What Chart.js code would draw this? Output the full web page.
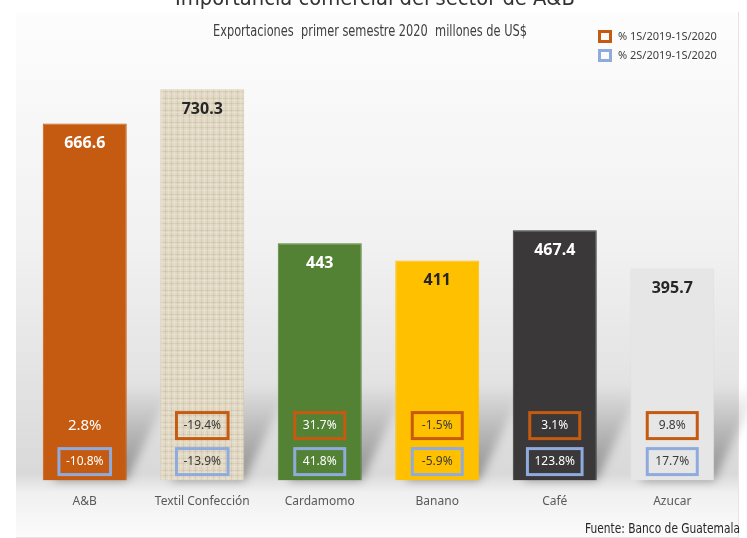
<!DOCTYPE html>
<html>
<head>
<meta charset="utf-8">
<script src="https://cdn.jsdelivr.net/npm/chart.js@4.4.0/dist/chart.umd.min.js"></script>
<style>
  html, body { margin: 0; padding: 0; background: #fff; }
  #wrap { width: 747px; height: 538px; position: relative; }
</style>
</head>
<body>
<div id="wrap"><canvas id="grafico"></canvas></div>
<script>
// datos
var categorias = ['A&B', 'Textil Confección', 'Cardamomo', 'Banano', 'Café', 'Azucar'];
var exportaciones = [666.6, 730.3, 443, 411, 467.4, 395.7];
var var1S = ['2.8%', '-19.4%', '31.7%', '-1.5%', '3.1%', '9.8%'];
var var2S = ['-10.8%', '-13.9%', '41.8%', '-5.9%', '123.8%', '17.7%'];
var leyenda = ['% 1S/2019-1S/2020', '% 2S/2019-1S/2020'];

var colorTexto = ['#ffffff', '#262626', '#ffffff', '#262626', '#ffffff', '#262626'];
var colorPct = ['#ffffff', '#3a3a3a', '#ffffff', '#3a3a3a', '#ffffff', '#3a3a3a'];
var conCaja1 = [false, true, true, true, true, true];

function texturaLino(){
    var c = document.createElement('canvas');
    c.width = 12; c.height = 12;
    var g = c.getContext('2d');
    g.fillStyle = '#e2d9c4';
    g.fillRect(0, 0, 12, 12);
    g.globalAlpha = 0.3;
    g.fillStyle = '#b9ad92';
    g.fillRect(0, 2, 12, 1);
    g.fillRect(0, 7, 12, 1);
    g.fillRect(3, 0, 1, 12);
    g.fillRect(9, 0, 1, 12);
    g.fillStyle = '#f3ede0';
    g.fillRect(0, 4, 12, 1);
    g.fillRect(0, 10, 12, 1);
    g.fillRect(6, 0, 1, 12);
    g.fillRect(0, 0, 1, 12);
    return g.createPattern(c, 'repeat');
}

var colores = ['#c55a11', texturaLino(), '#548235', '#ffc000', '#3a3838', '#e7e6e6'];

var fondo = {
    id: 'fondo',
    beforeDraw: function(chart){
        var ctx = chart.ctx;
        ctx.save();
        ctx.fillStyle = '#ffffff';
        ctx.fillRect(0, 0, chart.width, chart.height);
        var grd = ctx.createLinearGradient(0, 12, 0, 537);
        grd.addColorStop(0, '#fdfdfd');
        grd.addColorStop(0.45, '#f1f1f1');
        grd.addColorStop(0.88, '#d9d9d9');
        grd.addColorStop(0.915, '#f0f0f0');
        grd.addColorStop(1, '#fbfbfb');
        ctx.fillStyle = grd;
        ctx.fillRect(16, 12, 722, 525);
        ctx.strokeStyle = '#e4e4e4';
        ctx.lineWidth = 1;
        ctx.beginPath();
        ctx.moveTo(738.5, 12); ctx.lineTo(738.5, 537.5); ctx.lineTo(16, 537.5);
        ctx.stroke();

        // titulo cortado arriba
        ctx.fillStyle = '#333333';
        ctx.font = '22px "DejaVu Sans Condensed", "DejaVu Sans", sans-serif';
        ctx.textAlign = 'center';
        ctx.textBaseline = 'alphabetic';
        ctx.fillText('Importancia comercial del sector de A&B', 375, 5, 400);

        ctx.fillStyle = '#404040';
        ctx.font = '15px "DejaVu Sans Condensed", "DejaVu Sans", sans-serif';
        ctx.textBaseline = 'middle';
        ctx.fillText('Exportaciones  primer semestre 2020  millones de US$', 370, 32, 314);

        // leyenda
        var bordes = ['#c55a11', '#8faadc'];
        ctx.textAlign = 'left';
        ctx.font = '11px "Noto Sans", sans-serif';
        for (var i = 0; i < leyenda.length; i++) {
            var y = 37 + i * 19;
            ctx.strokeStyle = bordes[i];
            ctx.lineWidth = 3;
            ctx.strokeRect(599.5, y - 5.5, 11, 10);
            ctx.fillStyle = '#404040';
            ctx.fillText(leyenda[i], 618, y, 122);
        }

        ctx.fillStyle = '#262626';
        ctx.font = '14px "DejaVu Sans Condensed", "DejaVu Sans", sans-serif';
        ctx.textAlign = 'right';
        ctx.fillText('Fuente: Banco de Guatemala', 740, 529, 155);
        ctx.restore();
    },
    beforeDatasetsDraw: function(chart){
        var ctx = chart.ctx;
        var meta = chart.getDatasetMeta(0);
        var base = chart.scales.y.getPixelForValue(0);
        ctx.save();
        ctx.filter = 'blur(5px)';
        meta.data.forEach(function(bar){
            var x0 = bar.x - bar.width / 2, x1 = bar.x + bar.width / 2;
            var grd = ctx.createLinearGradient(0, base, 0, base - 95);
            grd.addColorStop(0, 'rgba(80,80,80,0.55)');
            grd.addColorStop(1, 'rgba(80,80,80,0)');
            ctx.fillStyle = grd;
            ctx.beginPath();
            ctx.moveTo(x0 + 10, base);
            ctx.lineTo(x1, base);
            ctx.lineTo(x1 + 45, base - 95);
            ctx.lineTo(x0 + 55, base - 95);
            ctx.closePath();
            ctx.fill();
        });
        ctx.restore();
    },
    afterDatasetsDraw: function(chart){
        var ctx = chart.ctx;
        var meta = chart.getDatasetMeta(0);
        var base = chart.scales.y.getPixelForValue(0);
        ctx.save();
        ctx.textAlign = 'center';
        ctx.textBaseline = 'middle';
        meta.data.forEach(function(bar, i){
            ctx.fillStyle = colorTexto[i];
            ctx.font = 'bold 16px "Noto Sans", sans-serif';
            ctx.fillText(exportaciones[i], bar.x, bar.y + 20);

            ctx.font = '12px "Noto Sans", sans-serif';
            var y1 = base - 55, y2 = base - 19;
            var a1 = Math.max(50, ctx.measureText(var1S[i]).width + 14);
            var a2 = Math.max(50, ctx.measureText(var2S[i]).width + 14);
            ctx.lineWidth = 3;
            if (conCaja1[i]) {
                ctx.strokeStyle = '#c55a11';
                ctx.strokeRect(bar.x - a1 / 2, y1 - 13, a1, 26);
            }
            ctx.strokeStyle = '#8faadc';
            ctx.strokeRect(bar.x - a2 / 2, y2 - 13, a2, 26);
            ctx.fillStyle = colorPct[i];
            ctx.font = (conCaja1[i] ? '12px' : '15px') + ' "Noto Sans", sans-serif';
            ctx.fillText(var1S[i], bar.x, y1);
            ctx.font = '12px "Noto Sans", sans-serif';
            ctx.fillText(var2S[i], bar.x, y2);
        });
        ctx.restore();
    }
};

function setGrafico(){
    var ctx = document.getElementById('grafico').getContext('2d');
    new Chart(ctx, {
        type: 'bar',
        data: {
            labels: categorias,
            datasets: [{
                label: 'Exportaciones',
                data: exportaciones,
                backgroundColor: colores,
                borderColor: ['#c55a11', '#d8cfb8', '#548235', '#ffc000', '#3a3838', '#e0dfdf'],
                borderWidth: 1,
                barPercentage: 0.715,
                categoryPercentage: 1
            }]
        },
        options: {
            responsive: true,
            maintainAspectRatio: false,
            animation: false,
            layout: { padding: { left: 26, right: 16, top: 52, bottom: 15 } },
            plugins: {
                legend: { display: false },
                tooltip: { enabled: false }
            },
            scales: {
                x: {
                    grid: { display: false, drawTicks: false },
                    border: { display: false },
                    ticks: {
                        color: '#595959',
                        padding: 14,
                        font: { family: 'Noto Sans', size: 12 }
                    }
                },
                y: {
                    display: false,
                    min: 0,
                    max: 800
                }
            }
        },
        plugins: [fondo]
    });
}
setGrafico();
</script>
</body>
</html>
